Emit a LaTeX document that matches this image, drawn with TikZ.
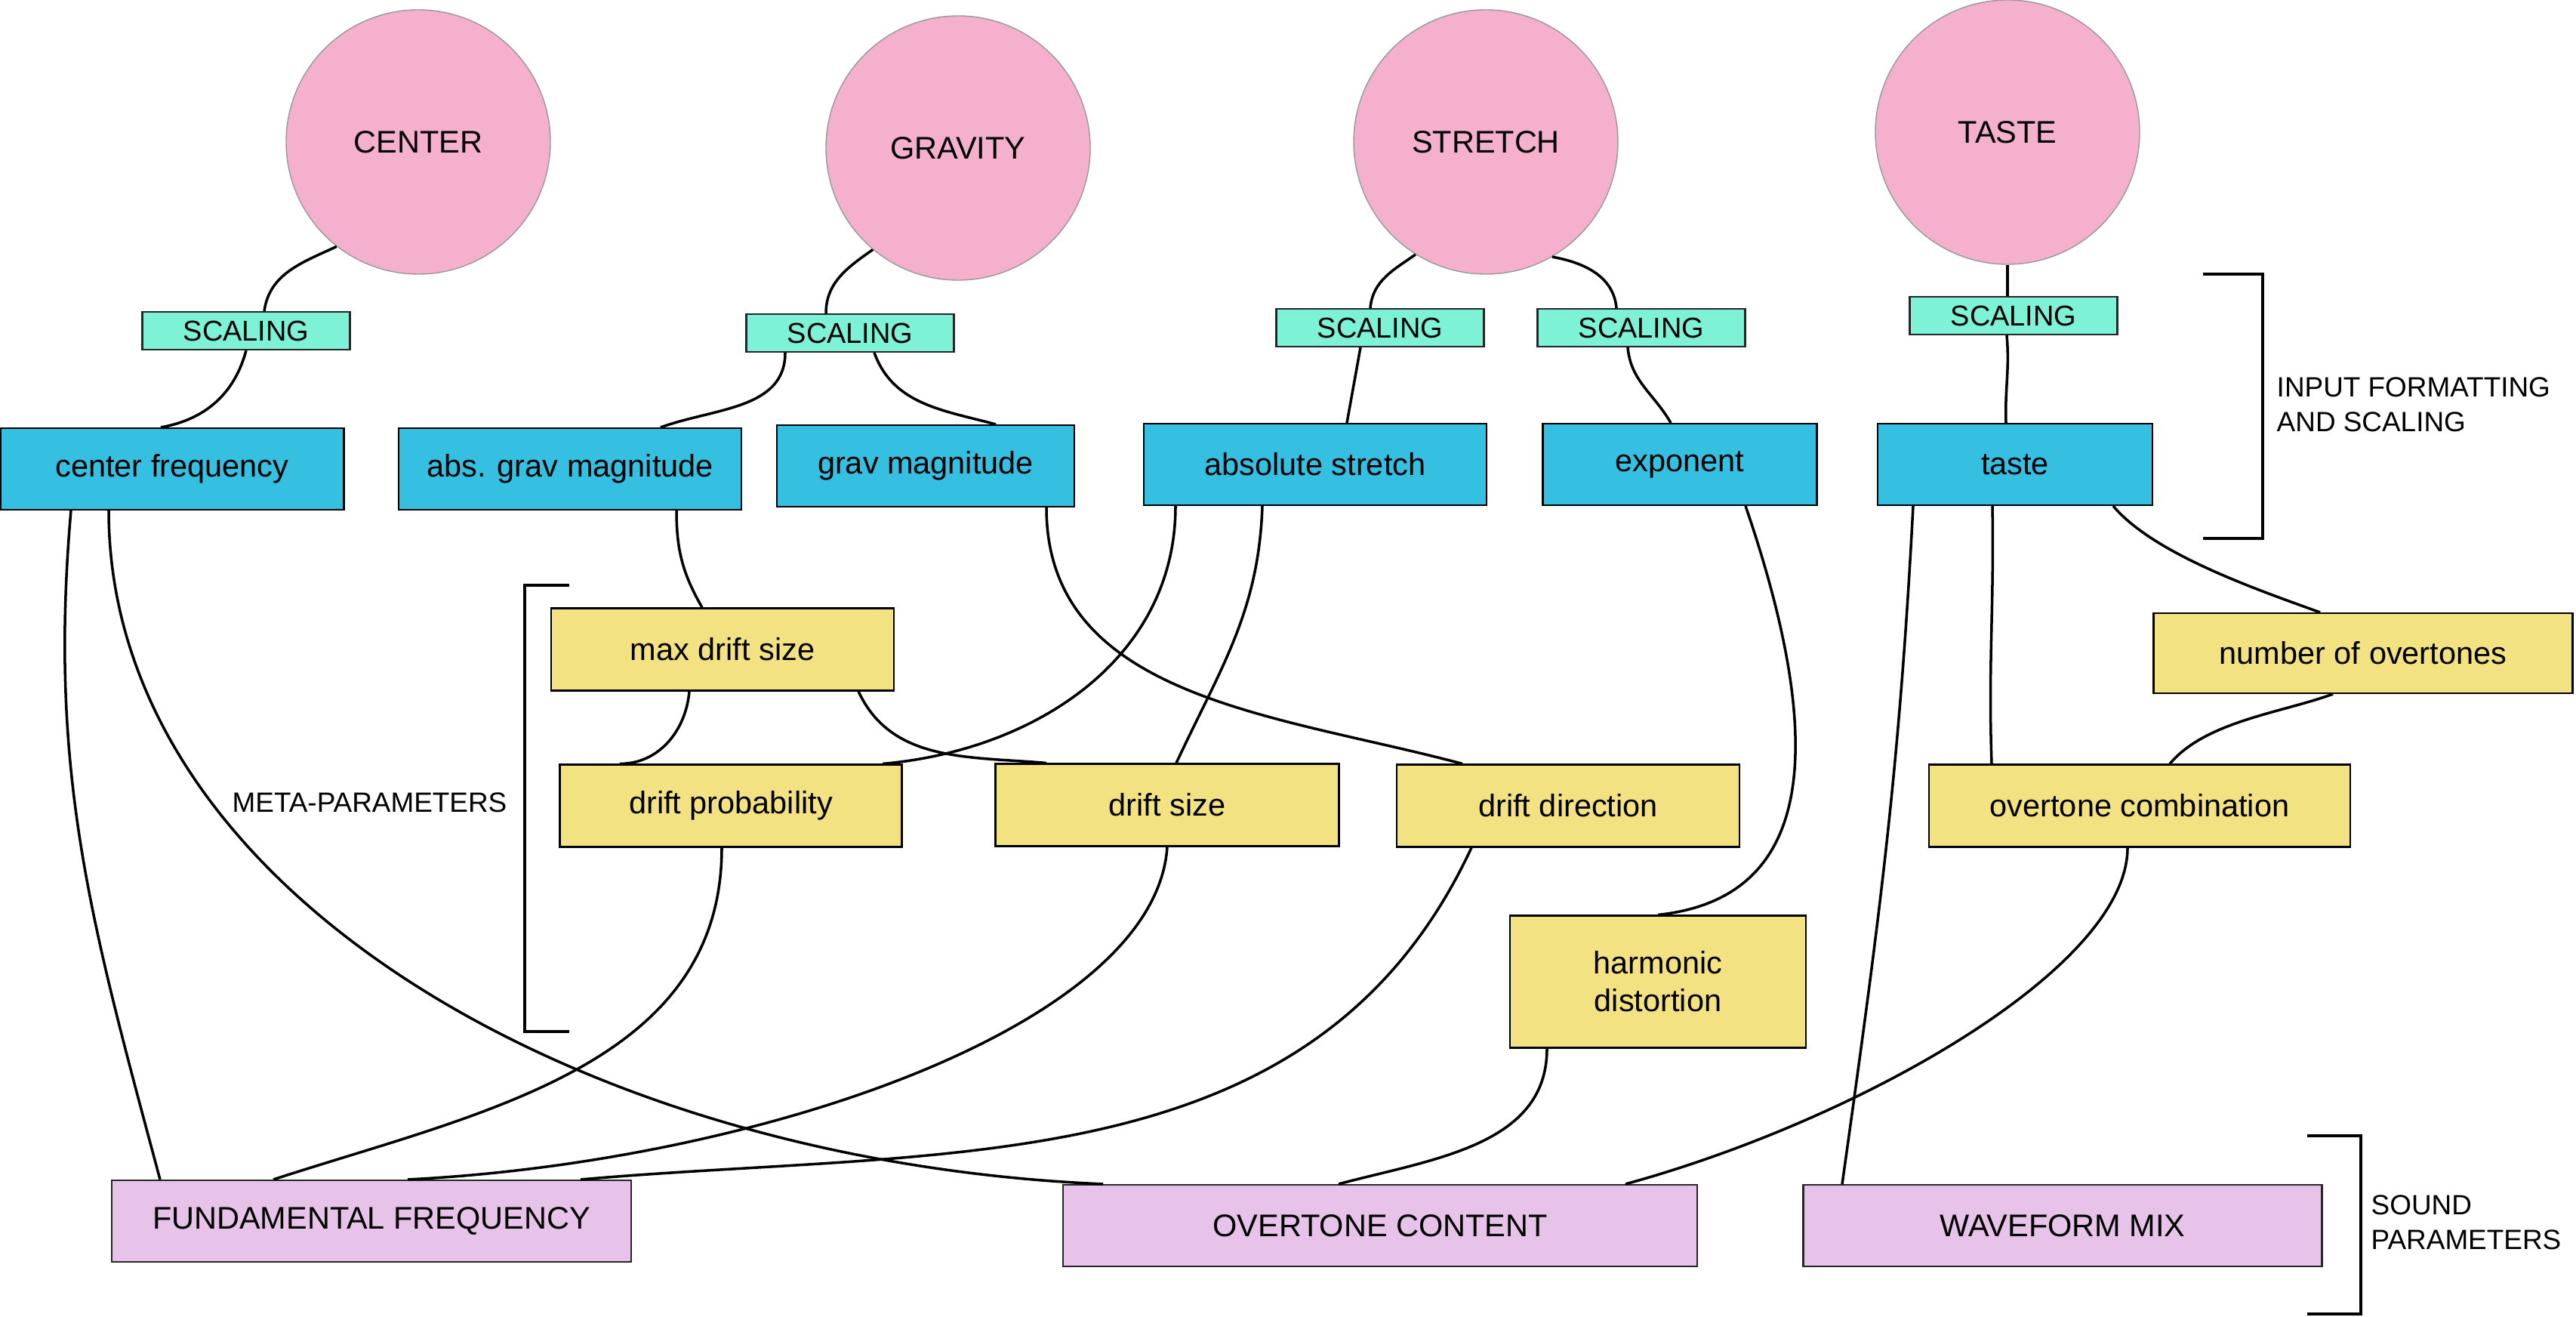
\documentclass[tikz,border=0pt]{standalone}
\usepackage{fontspec}
\setmainfont{Liberation Sans}
\usepackage{tikz}
\usetikzlibrary{calc}
\usetikzlibrary{positioning}
\definecolor{blossom}{RGB}{244, 176, 204}
\definecolor{aqua}{RGB}{126, 242, 215}
\definecolor{cerulean}{RGB}{53, 192, 226}
\definecolor{sunflower}{RGB}{243, 226, 129}
\definecolor{lilac}{RGB}{232, 195, 233}
\tikzset{
    knob/.style={circle, fill=blossom, draw=gray!80, minimum size=3.5cm, inner sep=0pt, font=\fontsize{11.8}{14}\selectfont},
    scaler/.style={rectangle, fill=aqua, draw=black!85, line width=0.6pt, minimum width=2.75cm, minimum height=0.5cm, inner sep=0pt, font=\fontsize{10.8}{13}\selectfont},
    inbox/.style={rectangle, fill=cerulean, draw=black, line width=0.6pt, minimum height=1.08cm, inner sep=0pt, font=\fontsize{11.8}{14}\selectfont},
    metabox/.style={rectangle, fill=sunflower, draw=black, line width=0.6pt, minimum height=1.09cm, inner sep=0pt, align=center, font=\fontsize{11.8}{14.2}\selectfont},
    soundbox/.style={rectangle, fill=lilac, draw=black!85, line width=0.6pt, minimum height=1.08cm, inner sep=0pt, font=\fontsize{11.8}{14}\selectfont},
    wire/.style={black, line width=1pt},
    brace/.style={black, line width=1.2pt},
    tag/.style={font=\fontsize{10.5}{13}\selectfont, align=left, inner sep=0pt}
}
\begin{document}
\begin{tikzpicture}
            \useasboundingbox (0.00, 0.00) rectangle (34.12,-17.44);
            % Inputs
            \node[knob] (ccenter)  at ( 5.54,-1.88) {CENTER};
            \node[knob] (cgrav)    at (12.69,-1.96) {GRAVITY};
            \node[knob] (cstretch) at (19.68,-1.88) {STRETCH};
            \node[knob] (ctaste)   at (26.59,-1.75) {TASTE};
            % Scaling
            \node[scaler] (sc1) at ( 3.26,-4.38) {SCALING};
            \node[scaler] (sc2) at (11.26,-4.41) {SCALING};
            \node[scaler] (sc3) at (18.28,-4.34) {SCALING};
            \node[scaler] (sc4) at (21.74,-4.34) {SCALING};
            \node[scaler] (sc5) at (26.67,-4.18) {SCALING};
            % Formatted inputs
            \node[inbox, minimum width=4.55cm] (cfreq)      at ( 2.28,-6.21) {center frequency};
            \node[inbox, minimum width=4.54cm] (absgrav)    at ( 7.55,-6.21) {abs. grav magnitude};
            \node[inbox, minimum width=3.94cm] (grav)       at (12.26,-6.17) {grav magnitude};
            \node[inbox, minimum width=4.54cm] (absstretch) at (17.42,-6.15) {absolute stretch};
            \node[inbox, minimum width=3.63cm] (expo)       at (22.25,-6.15) {exponent};
            \node[inbox, minimum width=3.64cm] (taste)      at (26.69,-6.15) {taste};
            % Meta-parameters
            \node[metabox, minimum width=4.54cm] (maxdrift)  at ( 9.57,-8.60) {max drift size};
            \node[metabox, minimum width=4.53cm] (driftprob) at ( 9.68,-10.67) {drift probability};
            \node[metabox, minimum width=4.55cm] (driftsize) at (15.46,-10.66) {drift size};
            \node[metabox, minimum width=4.54cm] (driftdir)  at (20.77,-10.67) {drift direction};
            \node[metabox, minimum width=5.58cm] (ovcomb)    at (28.34,-10.67) {overtone combination};
            \node[metabox, minimum width=3.92cm, minimum height=1.75cm] (harmdist) at (21.96,-13.00) {harmonic\\distortion};
            \node[metabox, minimum width=5.55cm, minimum height=1.06cm] (numov) at (31.30,-8.65) {number of overtones};
            % Sound parameters
            \node[soundbox, minimum width=6.88cm] (fund)   at ( 4.92,-16.17) {FUNDAMENTAL FREQUENCY};
            \node[soundbox, minimum width=8.40cm] (ovcont) at (18.28,-16.23) {OVERTONE CONTENT};
            \node[soundbox, minimum width=6.87cm] (wave)   at (27.32,-16.23) {WAVEFORM MIX};
            % Brackets & labels
            \draw[brace] (29.18,-3.63) -- (29.97,-3.63) -- (29.97,-7.13) -- (29.18,-7.13);
            \node[tag, anchor=west] (lblinput) at (30.15,-5.36) {INPUT FORMATTING\\AND SCALING};
            \draw[brace] ( 7.54,-7.75) -- ( 6.95,-7.75) -- ( 6.95,-13.66) -- ( 7.54,-13.66);
            \node[tag, anchor=east] (lblmeta) at ( 6.72,-10.63) {META-PARAMETERS};
            \draw[brace] (30.56,-15.04) -- (31.27,-15.04) -- (31.27,-17.40) -- (30.56,-17.40);
            \node[tag, anchor=west] (lblsound) at (31.40,-16.19) {SOUND\\PARAMETERS};
            % Inputs to scaling
            \draw[wire] (ccenter.232) to[out=205, in=82] ([xshift=2.4mm]sc1.north);
            \draw[wire] (cgrav.230) to[out=215, in=90] ([xshift=-3.2mm]sc2.north);
            \draw[wire] (cstretch.238) to[out=215, in=85] ([xshift=-1.3mm]sc3.north);
            \draw[wire] (cstretch.300) to[out=-10, in=95] ([xshift=-3.3mm]sc4.north);
            \draw[wire] (ctaste.south) -- (ctaste.south |- sc5.north);
            % Scaling to formatted inputs
            \draw[wire] (sc1.south) to[out=255, in=10] ([xshift=-1.5mm]cfreq.north);
            \draw[wire] ([xshift=-8.6mm]sc2.south) to[out=270, in=20] ([xshift=12mm]absgrav.north);
            \draw[wire] ([xshift=3.2mm]sc2.south) to[out=-70, in=165] ([xshift=9.3mm]grav.north);
            \draw[wire] ([xshift=-2.6mm]sc3.south) -- ([xshift=4.2mm]absstretch.north);
            \draw[wire] ([xshift=-1.8mm]sc4.south) to[out=-85, in=120] ([xshift=-1.2mm]expo.north);
            \draw[wire] ([xshift=-0.9mm]sc5.south) to[out=-85, in=92] ([xshift=-1.2mm]taste.north);
            % Formatted inputs to meta-parameters
            \draw[wire] ([xshift=14.1mm]absgrav.south) to[out=-90, in=120] ([xshift=-2.7mm]maxdrift.north);
            \draw[wire] ([xshift=-4.4mm]maxdrift.south) to[out=-95, in=0] ([xshift=-14.7mm]driftprob.north);
            \draw[wire] ([xshift=18mm]maxdrift.south) to[out=-65, in=175] ([xshift=-16mm]driftsize.north);
            \draw[wire] ([xshift=-18.5mm]absstretch.south) to[out=-90, in=5] ([xshift=20.1mm]driftprob.north);
            \draw[wire] ([xshift=-7mm]absstretch.south) to[out=-92, in=65] ([xshift=1.2mm]driftsize.north);
            \draw[wire] ([xshift=16mm]grav.south) to[out=-90, in=165] ([xshift=-14mm]driftdir.north);
            \draw[wire] ([xshift=8.7mm]expo.south) .. controls +(1.2,-3.5) and +(1.9,0.2) .. (harmdist.north);
            \draw[wire] ([xshift=13mm]taste.south) to[out=-50, in=160, looseness=0.7] ([xshift=-5.7mm]numov.north);
            \draw[wire] ([xshift=-3mm]taste.south) to[out=-89, in=92] ([xshift=-19.6mm]ovcomb.north);
            \draw[wire] ([xshift=-4mm]numov.south) to[out=200, in=50, looseness=0.8] ([xshift=4mm]ovcomb.north);
            % Meta-parameters to sound parameters
            \draw[wire] ([xshift=-13.4mm]cfreq.south) to[out=-95, in=105] ([xshift=-28mm]fund.north);
            \draw[wire] ([xshift=-8.4mm]cfreq.south) .. controls +(0,-5) and +(-7,0.3) .. ([xshift=-36.7mm]ovcont.north);
            \draw[wire] ([xshift=-1.2mm]driftprob.south) to[out=-90, in=18] ([xshift=-13mm]fund.north);
            \draw[wire] (driftsize.south) .. controls +(-0.16,-2.39) and +(4.6,0.23) .. ([xshift=4.8mm]fund.north);
            \draw[wire] ([xshift=-12.8mm]driftdir.south) to[out=-115, in=5] ([xshift=27.7mm]fund.north);
            \draw[wire] ([xshift=-14.7mm]harmdist.south) to[out=-90, in=15] ([xshift=-5.5mm]ovcont.north);
            \draw[wire] ([xshift=-1.6mm]ovcomb.south) .. controls +(0,-1.6) and +(3.07,0.84) .. ([xshift=32.5mm]ovcont.north);
            \draw[wire] ([xshift=-13.5mm]taste.south) to[out=-93, in=82] ([xshift=-29.2mm]wave.north);
\end{tikzpicture}
\end{document}
